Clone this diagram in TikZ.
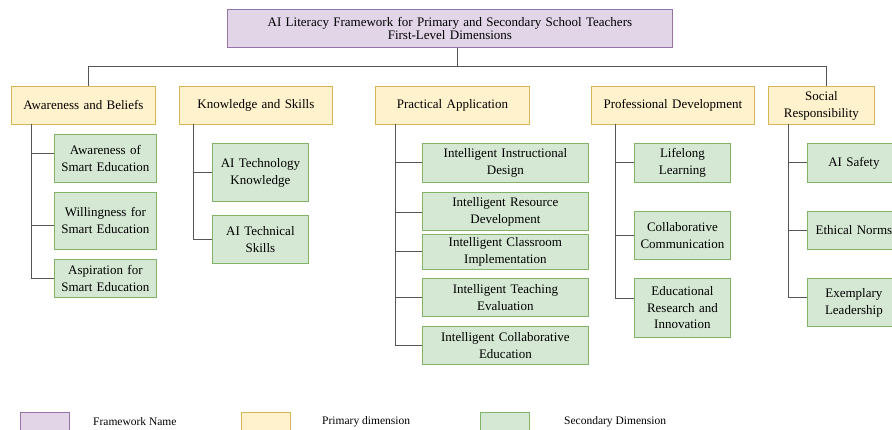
\documentclass[tikz,border=0pt]{standalone}
\usepackage{fontspec}
\setmainfont{Liberation Serif}
\definecolor{fwfill}{HTML}{E1D5E7}
\definecolor{fwline}{HTML}{9673A6}
\definecolor{pdfill}{HTML}{FFF2CC}
\definecolor{pdline}{HTML}{D6B656}
\definecolor{sdfill}{HTML}{D5E8D4}
\definecolor{sdline}{HTML}{82B366}
\definecolor{wire}{HTML}{555555}
\tikzset{
  box/.style={anchor=north west, inner sep=0pt, align=center, line width=0.8pt,
              font=\fontsize{13}{17}\selectfont},
  fwbox/.style={box, draw=fwline, fill=fwfill},
  pdbox/.style={box, draw=pdline, fill=pdfill},
  sdbox/.style={box, draw=sdline, fill=sdfill},
  legbox/.style={anchor=north west, inner sep=0pt, minimum width=49pt, minimum height=25pt, line width=0.8pt},
  legtext/.style={anchor=west, inner sep=0pt, font=\fontsize{11.5}{13}\selectfont},
  wire/.style={draw=wire, line width=1pt},
}
\begin{document}
\begin{tikzpicture}[x=1pt, y=-1pt]
\useasboundingbox (0,0) rectangle (892,430);
\clip (0,0) rectangle (892,430);

% framework title
\node[fwbox, text width=445pt, minimum height=38pt, font=\fontsize{13}{12.5}\selectfont] (title) at (227,9)
  {AI Literacy Framework for Primary and Secondary School Teachers\\First-Level Dimensions};

% primary dimensions
\node[pdbox, text width=144pt, minimum height=38pt] (p1) at (11,86) {Awareness and Beliefs};
\node[pdbox, text width=153pt, minimum height=38pt] (p2) at (179,86) {Knowledge and Skills};
\node[pdbox, text width=154pt, minimum height=38pt] (p3) at (375,86) {Practical Application};
\node[pdbox, text width=163pt, minimum height=38pt] (p4) at (591,86) {Professional Development};
\node[pdbox, text width=106pt, minimum height=38pt] (p5) at (768,86) {Social\\Responsibility};

% awareness and beliefs
\node[sdbox, text width=102pt, minimum height=48pt] (a1) at (54,134) {Awareness of\\Smart Education};
\node[sdbox, text width=102pt, minimum height=57pt] (a2) at (54,192) {Willingness for\\Smart Education};
\node[sdbox, text width=102pt, minimum height=38pt] (a3) at (54,259) {Aspiration for\\Smart Education};

% knowledge and skills
\node[sdbox, text width=96pt, minimum height=58pt] (k1) at (212,143) {AI Technology\\Knowledge};
\node[sdbox, text width=96pt, minimum height=48pt] (k2) at (212,215) {AI Technical\\Skills};

% practical application
\node[sdbox, text width=166pt, minimum height=39pt] (s1) at (422,143) {Intelligent Instructional\\Design};
\node[sdbox, text width=166pt, minimum height=38pt] (s2) at (422,192) {Intelligent Resource\\Development};
\node[sdbox, text width=166pt, minimum height=35pt] (s3) at (422,234) {Intelligent Classroom\\Implementation};
\node[sdbox, text width=166pt, minimum height=38pt] (s4) at (422,278) {Intelligent Teaching\\Evaluation};
\node[sdbox, text width=166pt, minimum height=38pt] (s5) at (422,326) {Intelligent Collaborative\\Education};

% professional development
\node[sdbox, text width=96pt, minimum height=39pt] (d1) at (634,143) {Lifelong\\Learning};
\node[sdbox, text width=96pt, minimum height=48pt] (d2) at (634,211) {Collaborative\\Communication};
\node[sdbox, text width=96pt, minimum height=59pt, font=\fontsize{13}{16.5}\selectfont] (d3) at (634,278) {Educational\\Research and\\Innovation};

% social responsibility
\node[sdbox, text width=93pt, minimum height=39pt] (r1) at (807,143) {AI Safety};
\node[sdbox, text width=93pt, minimum height=38pt] (r2) at (807,211) {Ethical Norms};
\node[sdbox, text width=93pt, minimum height=48pt] (r3) at (807,278) {Exemplary\\Leadership};

% top-level bus
\coordinate (hub) at (457,67);
\coordinate (busL) at (88,67);
\coordinate (busR) at (826,67);
\draw[wire] (title.south -| hub) -- (hub);
\draw[wire] (p1.north -| busL) |- (busR) -- (p5.north -| busR);

% trunks down from each primary dimension
\coordinate (tA) at (31,124);
\coordinate (tK) at (193,124);
\coordinate (tP) at (395,124);
\coordinate (tD) at (615,124);
\coordinate (tR) at (788,124);

\draw[wire] (tA) |- ([yshift=5pt]a1.west);
\draw[wire] (tA) |- ([yshift=-5pt]a2.west);
\draw[wire] (tA) |- (a3.west);

\draw[wire] (tK) |- (k1.west);
\draw[wire] (tK) |- (k2.west);

\draw[wire] (tP) |- (s1.west);
\draw[wire] (tP) |- ([yshift=-1pt]s2.west);
\draw[wire] (tP) |- (s3.west);
\draw[wire] (tP) |- (s4.west);
\draw[wire] (tP) |- (s5.west);

\draw[wire] (tD) |- (d1.west);
\draw[wire] (tD) |- (d2.west);
\draw[wire] (tD) |- ([yshift=9pt]d3.west);

\draw[wire] (tR) |- (r1.west);
\draw[wire] (tR) |- (r2.west);
\draw[wire] (tR) |- ([yshift=5pt]r3.west);

% legend
\node[legbox, draw=fwline, fill=fwfill] (l1) at (20,412) {};
\node[legtext] (l1t) at (93,422) {Framework Name};
\node[legbox, draw=pdline, fill=pdfill] (l2) at (241,412) {};
\node[legtext] (l2t) at (322,422) {Primary dimension};
\node[legbox, draw=sdline, fill=sdfill] (l3) at (480,412) {};
\node[legtext] (l3t) at (564,422) {Secondary Dimension};
\end{tikzpicture}
\end{document}
